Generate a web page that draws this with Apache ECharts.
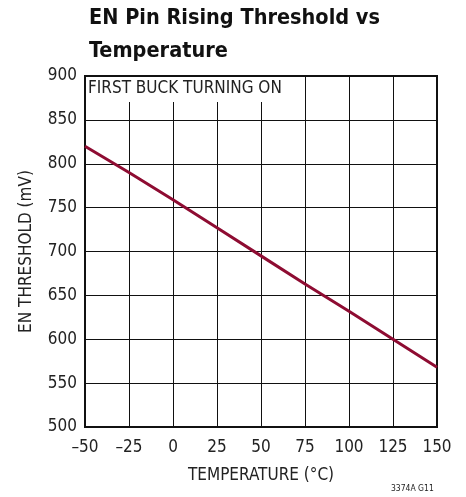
<!DOCTYPE html>
<html><head><meta charset="utf-8">
<script src="https://cdn.jsdelivr.net/npm/echarts@6/dist/echarts.min.js"></script>
<style>html,body{margin:0;padding:0;background:#fff}#c{width:466px;height:497px}</style>
</head><body><div id="c"></div>
<script>
const temperatures = [-50, -25, 0, 25, 50, 75, 100, 125, 150];
const thresholds = [820, 790, 759, 727, 695, 663, 632, 600, 568];
const xTicks = [-50, -25, 0, 25, 50, 75, 100, 125, 150];
const yTicks = [500, 550, 600, 650, 700, 750, 800, 850, 900];

const FONT = '"DejaVu Sans Condensed", "Liberation Sans Narrow", sans-serif';
const chart = echarts.init(document.getElementById('c'), null, {renderer: 'canvas'});
chart.setOption({
  animation: false,
  backgroundColor: '#fff',
  title: [
    {text: 'EN Pin Rising Threshold vs\nTemperature', left: 84, top: -3,
     textStyle: {fontFamily: FONT, fontWeight: 'bold', fontSize: 21.5, lineHeight: 33, color: '#111'}},
    {text: 'FIRST BUCK TURNING ON', left: 86, top: 77, padding: [3, 4, 5, 2],
     backgroundColor: '#fff', textStyle: {fontFamily: FONT, fontWeight: 'normal', fontSize: 17, color: '#222'}, z: 10},
    {text: '3374A G11', left: 391, top: 484, padding: 0,
     textStyle: {fontFamily: FONT, fontWeight: 'normal', fontSize: 8.5, color: '#222'}}
  ],
  grid: {left: 85, right: 29, top: 76, bottom: 70, show: true, borderColor: '#111', borderWidth: 2, backgroundColor: 'transparent'},
  xAxis: {
    type: 'value', min: -50, max: 150, interval: 25,
    name: 'TEMPERATURE (°C)', nameLocation: 'middle', nameGap: 40,
    nameTextStyle: {fontFamily: FONT, fontSize: 17, color: '#222'},
    axisLine: {show: false}, axisTick: {show: false},
    axisLabel: {fontFamily: FONT, fontSize: 17, color: '#222', margin: 12,
      formatter: v => (v < 0 ? '\u2013' + Math.abs(v) : String(v))},
    splitLine: {show: true, lineStyle: {color: '#111', width: 1}}
  },
  yAxis: {
    type: 'value', min: 500, max: 900, interval: 50,
    name: 'EN THRESHOLD (mV)', nameLocation: 'middle', nameGap: 50, nameRotate: 90,
    nameTextStyle: {fontFamily: FONT, fontSize: 17, color: '#222'},
    axisLine: {show: false}, axisTick: {show: false},
    axisLabel: {fontFamily: FONT, fontSize: 17, color: '#222', margin: 8},
    splitLine: {show: true, lineStyle: {color: '#111', width: 1}}
  },
  series: [{
    type: 'line', data: temperatures.map((t, i) => [t, thresholds[i]]),
    symbol: 'none', lineStyle: {color: '#8e0c32', width: 3}, z: 5
  }]
});
</script></body></html>
